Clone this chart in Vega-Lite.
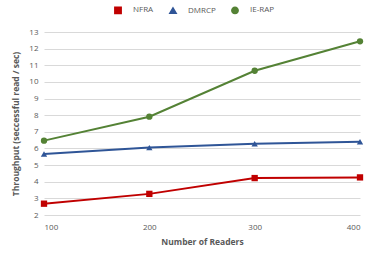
{
  "$schema": "https://vega.github.io/schema/vega-lite/v6.json",
  "width": 316,
  "height": 183,
  "autosize": "none",
  "padding": {"left": 44, "top": 32, "right": 17, "bottom": 44},
  "background": "white",
  "config": {
    "view": {"stroke": null},
    "font": "Open Sans",
    "axis": {"labelColor": "#595959", "titleColor": "#595959", "labelFontSize": 8, "titleFontSize": 8.5, "titleFontWeight": "bold"}
  },
  "data": {
    "values": [
      {"readers": 100, "series": "NFRA", "value": 2.68},
      {"readers": 200, "series": "NFRA", "value": 3.27},
      {"readers": 300, "series": "NFRA", "value": 4.22},
      {"readers": 400, "series": "NFRA", "value": 4.26},
      {"readers": 100, "series": "DMRCP", "value": 5.67},
      {"readers": 200, "series": "DMRCP", "value": 6.05},
      {"readers": 300, "series": "DMRCP", "value": 6.28},
      {"readers": 400, "series": "DMRCP", "value": 6.4},
      {"readers": 100, "series": "IE-RAP", "value": 6.47},
      {"readers": 200, "series": "IE-RAP", "value": 7.91},
      {"readers": 300, "series": "IE-RAP", "value": 10.67},
      {"readers": 400, "series": "IE-RAP", "value": 12.44}
    ]
  },
  "encoding": {
    "x": {"field": "readers", "type": "quantitative", "scale": {"domain": [100, 400]},
      "axis": {"values": [100, 200, 300, 400], "grid": false, "domain": false, "ticks": false, "labelPadding": 8, "title": "Number of Readers", "titlePadding": 6}},
    "y": {"field": "value", "type": "quantitative", "scale": {"domain": [2, 13]},
      "axis": {"values": [2,3,4,5,6,7,8,9,10,11,12,13], "grid": true, "gridColor": "#D9D9D9", "domain": false, "ticks": false, "labelPadding": 6, "title": "Throughput (seccessful read / sec)", "titlePadding": 8}},
    "color": {"field": "series", "type": "nominal", "sort": ["NFRA", "DMRCP", "IE-RAP"],
      "scale": {"domain": ["NFRA", "DMRCP", "IE-RAP"], "range": ["#C00000", "#2F5597", "#548235"]},
      "legend": {"orient": "none", "direction": "horizontal", "legendX": 70, "legendY": -26, "title": null, "labelFontSize": 8, "labelColor": "#595959", "symbolSize": 40, "labelOffset": 11, "columnPadding": 12}}
  },
  "layer": [
    {"mark": {"type": "line", "strokeWidth": 2}},
    {"mark": {"type": "point", "filled": true, "size": 40, "opacity": 1},
      "encoding": {"shape": {"field": "series", "type": "nominal", "sort": ["NFRA", "DMRCP", "IE-RAP"],
        "scale": {"domain": ["NFRA", "DMRCP", "IE-RAP"], "range": ["square", "triangle-up", "circle"]}}}}
  ]
}
